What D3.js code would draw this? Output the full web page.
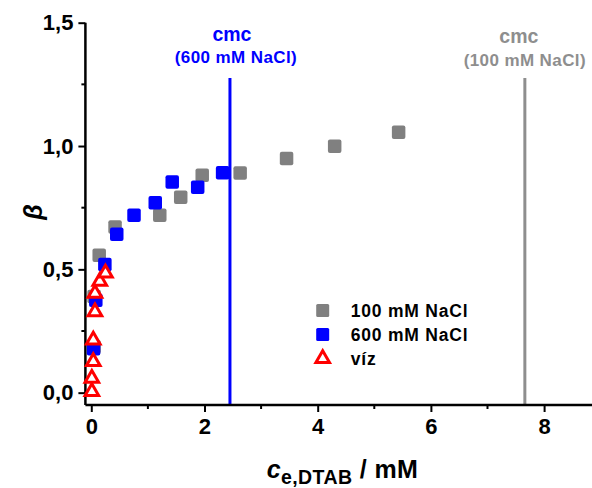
<!DOCTYPE html>
<html>
<head>
<meta charset="utf-8">
<script src="https://cdn.jsdelivr.net/npm/d3@7"></script>
<style>
html,body{margin:0;padding:0;background:#fff;}
svg{display:block;}
text{font-family:"Liberation Sans",Arial,sans-serif;font-weight:bold;}
</style>
</head>
<body>
<svg id="chart" width="592" height="488"></svg>
<script>
// ---- data ----
const seriesNames = ["100 mM NaCl", "600 mM NaCl", "víz"];
const gray100_x = [0.05, 0.05, 0.14, 0.42, 1.21, 1.58, 1.96, 2.63, 3.45, 4.30, 5.43];
const gray100_y = [0.185, 0.39, 0.557, 0.672, 0.719, 0.792, 0.881, 0.891, 0.949, 0.999, 1.056];
const blue600_x = [0.04, 0.08, 0.24, 0.45, 0.755, 1.13, 1.43, 1.88, 2.32];
const blue600_y = [0.178, 0.375, 0.52, 0.642, 0.719, 0.770, 0.854, 0.833, 0.892];
const water_x = [0.01, 0.01, 0.035, 0.035, 0.065, 0.065, 0.15, 0.25];
const water_y = [0.004, 0.058, 0.126, 0.213, 0.328, 0.403, 0.451, 0.485];
const cmcValues = [2.45, 7.66];
const cmcLabels = [["cmc", "(600 mM NaCl)"], ["cmc", "(100 mM NaCl)"]];
const xTicks = [0, 2, 4, 6, 8];
const xMinorTicks = [1, 3, 5, 7];
const yTicks = [0, 0.5, 1.0, 1.5];
const yMinorTicks = [0.25, 0.75, 1.25];

// ---- layout ----
const svg = d3.select("#chart");
const x = d3.scaleLinear().domain([-0.104, 9]).range([85.4, 600.7]);
const y = d3.scaleLinear().domain([-0.05, 1.5]).range([405, 22.7]);
const fmt = d => d3.format(".1f")(d).replace(".", ",");
const BLUE = "#0000ff", GRAY = "#808080", LGRAY = "#8e8e8e", RED = "#ff0000";

// cmc lines
const cmcColors = [BLUE, LGRAY];
const lineTop = 1.276;
cmcValues.forEach((v, i) => {
  svg.append("line")
    .attr("x1", x(v)).attr("x2", x(v))
    .attr("y1", y(lineTop)).attr("y2", y(-0.05))
    .attr("stroke", cmcColors[i]).attr("stroke-width", 3);
  const g = svg.append("g").attr("fill", cmcColors[i]).attr("text-anchor", "middle");
  g.append("text").attr("x", x(v) + (i ? -6 : 2)).attr("y", 41 + i * 1.5)
    .attr("font-size", 19.5).text(cmcLabels[i][0]);
  g.append("text").attr("x", x(v) + (i ? 0 : 6)).attr("y", 63 + i * 3)
    .attr("font-size", 17).attr("letter-spacing", 0.4).text(cmcLabels[i][1]);
});

// axes
const xAxis = d3.axisBottom(x).tickValues(xTicks).tickSize(7).tickPadding(6).tickFormat(d3.format("d"));
const gx = svg.append("g").attr("transform", `translate(0,${y(-0.05)})`).call(xAxis);
gx.select(".domain").attr("d", `M${x(-0.104)},0H592`).attr("stroke-width", 2.5);
gx.selectAll(".tick line").attr("stroke-width", 2);
gx.selectAll(".tick text").attr("font-size", 22).attr("font-family", "Liberation Sans, Arial, sans-serif").attr("font-weight", "bold").attr("fill", "#000");
gx.selectAll(".minor").data(xMinorTicks).enter().append("line")
  .attr("x1", d => x(d)).attr("x2", d => x(d)).attr("y1", 0).attr("y2", 4)
  .attr("stroke", "#000").attr("stroke-width", 2);

const yAxis = d3.axisLeft(y).tickValues(yTicks).tickSize(7).tickPadding(5).tickFormat(fmt);
const gy = svg.append("g").attr("transform", `translate(${x(-0.104)},0)`).call(yAxis);
gy.select(".domain").attr("d", `M0,${y(1.5)}V${y(-0.05)}`).attr("stroke-width", 2.5);
gy.selectAll(".tick line").attr("stroke-width", 2);
gy.selectAll(".tick text").attr("font-size", 22).attr("font-family", "Liberation Sans, Arial, sans-serif").attr("font-weight", "bold").attr("fill", "#000");
gy.selectAll(".minor").data(yMinorTicks).enter().append("line")
  .attr("x1", 0).attr("x2", -4).attr("y1", d => y(d)).attr("y2", d => y(d))
  .attr("stroke", "#000").attr("stroke-width", 2);

// points
const sq = 13.5;
function squares(xs, ys, color) {
  svg.append("g").selectAll("rect").data(xs.map((d, i) => [d, ys[i]])).enter().append("rect")
    .attr("x", d => x(d[0]) - sq / 2).attr("y", d => y(d[1]) - sq / 2)
    .attr("width", sq).attr("height", sq).attr("rx", 2)
    .attr("fill", color);
}
squares(gray100_x, gray100_y, GRAY);
squares(blue600_x, blue600_y, BLUE);
const tri = d3.symbol().type(d3.symbolTriangle).size(80);
svg.append("g").selectAll("path").data(water_x.map((d, i) => [d, water_y[i]])).enter().append("path")
  .attr("transform", d => `translate(${x(d[0])},${y(d[1])})`)
  .attr("d", tri).attr("fill", "#fff").attr("stroke", RED).attr("stroke-width", 3);

// legend
const leg = svg.append("g").attr("transform", "translate(322.7,310.5)");
const legColors = [GRAY, BLUE, RED];
seriesNames.forEach((n, i) => {
  const gy0 = i * 24;
  if (i < 2) {
    leg.append("rect").attr("x", -6.5).attr("y", gy0 - 6.5).attr("width", 13).attr("height", 13).attr("rx", 1.5).attr("fill", legColors[i]);
  } else {
    leg.append("path").attr("transform", `translate(0,${gy0})`).attr("d", tri)
      .attr("fill", "#fff").attr("stroke", RED).attr("stroke-width", 3);
  }
  leg.append("text").attr("x", 28).attr("y", gy0 + 6.5).attr("font-size", 17.5)
    .attr("letter-spacing", 0.8).attr("fill", "#000").text(n);
});

// axis titles
svg.append("text").attr("transform", "translate(42,212) rotate(-90)")
  .attr("text-anchor", "middle").attr("font-size", 25).attr("font-style", "italic")
  .attr("font-weight", "normal").attr("font-family", "Liberation Sans, Arial, sans-serif").text("β");

const xl = svg.append("text").attr("x", 342.5).attr("y", 478).attr("text-anchor", "middle")
  .attr("font-size", 25).attr("letter-spacing", 0.4);
xl.append("tspan").attr("font-style", "italic").text("c");
xl.append("tspan").attr("font-size", 19.5).attr("dy", 6).text("e,DTAB");
xl.append("tspan").attr("dy", -6).text(" / mM");
</script>
</body>
</html>
